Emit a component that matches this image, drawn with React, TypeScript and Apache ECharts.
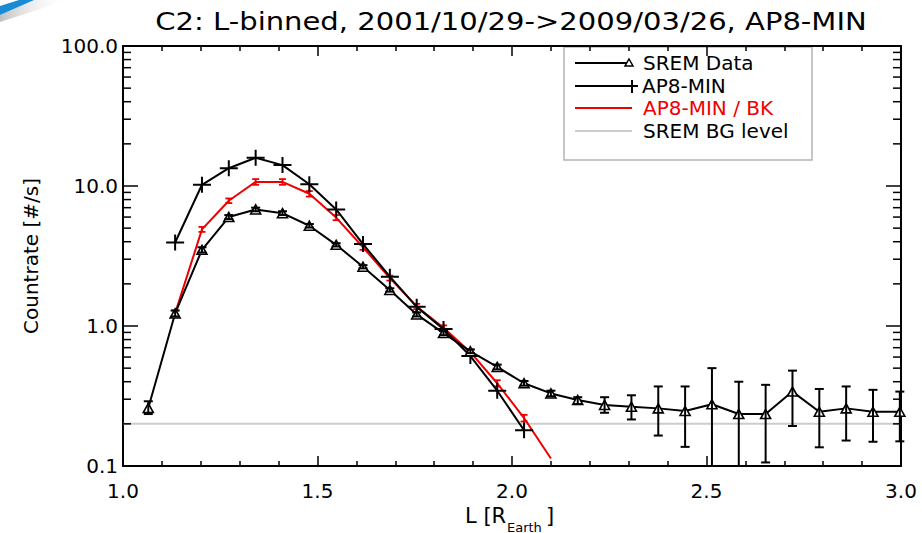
import React, { useEffect, useRef } from 'react';
import * as echarts from 'echarts';

const TITLE = 'C2: L-binned, 2001/10/29->2009/03/26, AP8-MIN';

// L bin centres [R_Earth]
const L_BINS = [1.065, 1.134, 1.203, 1.272, 1.341, 1.41, 1.479, 1.548, 1.617, 1.686, 1.755, 1.824, 1.893, 1.962, 2.031, 2.1, 2.169, 2.238, 2.307, 2.376, 2.445, 2.514, 2.583, 2.652, 2.721, 2.79, 2.859, 2.928, 2.997];

// SREM data (all bins)
const SREM = [0.26, 1.23, 3.5, 6.0, 6.8, 6.4, 5.2, 3.8, 2.65, 1.81, 1.21, 0.89, 0.66, 0.51, 0.39, 0.33, 0.296, 0.273, 0.265, 0.258, 0.247, 0.276, 0.235, 0.235, 0.34, 0.244, 0.258, 0.244, 0.244];
const SREM_LO = [0.235, 1.17, 3.35, 5.8, 6.6, 6.2, 5.05, 3.7, 2.58, 1.76, 1.17, 0.86, 0.64, 0.49, 0.375, 0.315, 0.277, 0.24, 0.215, 0.165, 0.137, 0.05, 0.05, 0.106, 0.193, 0.136, 0.152, 0.149, 0.15];
const SREM_HI = [0.29, 1.29, 3.65, 6.2, 7.0, 6.6, 5.35, 3.9, 2.72, 1.86, 1.25, 0.92, 0.68, 0.53, 0.405, 0.345, 0.31, 0.31, 0.32, 0.37, 0.37, 0.5, 0.4, 0.38, 0.48, 0.355, 0.37, 0.35, 0.34];

// AP8-MIN model (bins 1..14)
const AP8 = [3.95, 10.2, 13.4, 15.9, 14.1, 10.3, 6.8, 3.85, 2.25, 1.37, 0.95, 0.61, 0.345, 0.18];

// AP8-MIN / BK (bins 1..15), error bars for bins 1..14
const AP8_BK = [1.23, 4.9, 7.85, 10.7, 10.7, 8.8, 5.95, 3.65, 2.2, 1.38, 0.97, 0.65, 0.39, 0.22, 0.113];
const AP8_BK_LO = [1.17, 4.7, 7.55, 10.2, 10.2, 8.4, 5.7, 3.5, 2.11, 1.32, 0.93, 0.62, 0.37, 0.208];
const AP8_BK_HI = [1.29, 5.1, 8.15, 11.2, 11.2, 9.2, 6.2, 3.8, 2.29, 1.44, 1.01, 0.68, 0.41, 0.232];

const BG_LEVEL = 0.2;
const X_MIN = 1.0;
const X_MAX = 3.0;
const Y_MIN = 0.1;
const Y_MAX = 100;
const Y_MINOR = [0.2, 0.3, 0.4, 0.5, 0.6, 0.7, 0.8, 0.9, 2, 3, 4, 5, 6, 7, 8, 9, 20, 30, 40, 50, 60, 70, 80, 90];

const FONT = '"DejaVu Sans", "Liberation Sans", sans-serif';
const RED = '#ee0000';
const PLUS = 'path://M8,0h2v7h8v2h-8v7h-2v-7h-8v-2h8z';

function errRender(color: string, lw: number, cap: number) {
  return (params: any, api: any) => {
    const x = api.value(0);
    const lo = api.value(1);
    const hi = api.value(2);
    const cs = params.coordSys;
    const top = api.coord([x, hi]);
    const bot = api.coord([x, lo]);
    const yBottom = cs.y + cs.height;
    const clipped = bot[1] > yBottom;
    const by = clipped ? yBottom : bot[1];
    const st = { stroke: color, lineWidth: lw };
    const children: any[] = [
      { type: 'line', shape: { x1: top[0], y1: top[1], x2: top[0], y2: by }, style: st },
      { type: 'line', shape: { x1: top[0] - cap / 2, y1: top[1], x2: top[0] + cap / 2, y2: top[1] }, style: st },
    ];
    if (!clipped) {
      children.push({ type: 'line', shape: { x1: bot[0] - cap / 2, y1: by, x2: bot[0] + cap / 2, y2: by }, style: st });
    }
    return { type: 'group', children };
  };
}

export default function App() {
  const ref = useRef<HTMLDivElement>(null);
  useEffect(() => {
    document.body.style.margin = '0';
    const chart = echarts.init(ref.current!, null, { renderer: 'svg' });

    const axisLine = { show: true, lineStyle: { color: '#000', width: 2 } };
    const xCommon = {
      type: 'value' as const,
      min: X_MIN,
      max: X_MAX,
      interval: 0.5,
      axisLine,
      splitLine: { show: false },
      axisTick: { show: true, inside: true, length: 10, lineStyle: { color: '#000', width: 1.5 } },
      minorTick: { show: true, splitNumber: 5, length: 5, lineStyle: { color: '#000', width: 1.5 } },
    };
    const yCommon = {
      type: 'log' as const,
      logBase: 10,
      min: Y_MIN,
      max: Y_MAX,
      axisLine,
      splitLine: { show: false },
      axisTick: { show: true, inside: true, length: 15, lineStyle: { color: '#000', width: 1.5 } },
    };

    const tStyle = (text: string, x: number, y: number, fill = '#000', size = 20) => ({
      type: 'text',
      x,
      y,
      style: { text, fill, font: `${size}px ${FONT}`, textAlign: 'left', textVerticalAlign: 'middle' },
    });

    chart.setOption({
      animation: false,
      grid: { left: 123, right: 21, top: 46, bottom: 67 },
      xAxis: [
        {
          ...xCommon,
          position: 'bottom',
          axisLabel: { show: true, margin: 15, fontSize: 20, fontFamily: FONT, color: '#000', formatter: (v: number) => v.toFixed(1) },
        },
        { ...xCommon, position: 'top', axisLabel: { show: false } },
      ],
      yAxis: [
        {
          ...yCommon,
          position: 'left',
          name: 'Countrate [#/s]',
          nameLocation: 'middle',
          nameGap: 82,
          nameTextStyle: { fontSize: 20, fontFamily: FONT, color: '#000' },
          axisLabel: { show: true, margin: 5, fontSize: 20, fontFamily: FONT, color: '#000', formatter: (v: number) => v.toFixed(1) },
        },
        { ...yCommon, position: 'right', axisLabel: { show: false } },
      ],
      series: [
        {
          type: 'line',
          name: 'SREM BG level',
          data: [[X_MIN, BG_LEVEL], [X_MAX, BG_LEVEL]],
          symbol: 'none',
          lineStyle: { color: '#cccccc', width: 2 },
          z: 1,
          silent: true,
        },
        {
          type: 'line',
          name: 'AP8-MIN / BK',
          data: AP8_BK.map((v, i) => [L_BINS[i + 1], v]),
          symbol: 'none',
          lineStyle: { color: RED, width: 2 },
          z: 2,
          silent: true,
        },
        {
          type: 'custom',
          name: 'AP8-MIN / BK error',
          renderItem: errRender(RED, 1.8, 7),
          data: AP8_BK_LO.map((lo, i) => [L_BINS[i + 1], lo, AP8_BK_HI[i]]),
          encode: { x: 0, y: [1, 2] },
          z: 3,
          silent: true,
        },
        {
          type: 'line',
          name: 'AP8-MIN',
          data: AP8.map((v, i) => [L_BINS[i + 1], v]),
          symbol: PLUS,
          symbolSize: [18, 16],
          itemStyle: { color: '#000' },
          lineStyle: { color: '#000', width: 2 },
          z: 4,
          silent: true,
        },
        {
          type: 'line',
          name: 'SREM Data',
          data: SREM.map((v, i) => [L_BINS[i], v]),
          symbol: 'triangle',
          symbolSize: [10, 9],
          itemStyle: { color: '#fff', borderColor: '#000', borderWidth: 1.6 },
          lineStyle: { color: '#000', width: 2 },
          z: 5,
          silent: true,
        },
        {
          type: 'custom',
          name: 'SREM error',
          renderItem: errRender('#000', 2, 9),
          data: SREM_LO.map((lo, i) => [L_BINS[i], lo, SREM_HI[i]]),
          encode: { x: 0, y: [1, 2] },
          z: 6,
          silent: true,
        },
        {
          type: 'custom',
          name: 'minor y ticks',
          renderItem: (params: any, api: any) => {
            const cs = params.coordSys;
            const y = api.coord([X_MIN, api.value(1)])[1];
            const st = { stroke: '#000', lineWidth: 1.5 };
            return {
              type: 'group',
              children: [
                { type: 'line', shape: { x1: cs.x, y1: y, x2: cs.x + 8, y2: y }, style: st },
                { type: 'line', shape: { x1: cs.x + cs.width - 8, y1: y, x2: cs.x + cs.width, y2: y }, style: st },
              ],
            };
          },
          data: Y_MINOR.map((v) => [X_MIN, v]),
          encode: { x: 0, y: 1 },
          z: 7,
          silent: true,
        },
      ],
      graphic: [
        { type: 'polygon', shape: { points: [[0, 15], [0, 22], [68, 0], [34, 0]] }, style: { fill: new echarts.graphic.LinearGradient(0, 0, 1, 0, [{ offset: 0, color: 'rgba(140,140,140,0.55)' }, { offset: 1, color: 'rgba(255,255,255,0)' }]) }, z: 1 },
        { type: 'polygon', shape: { points: [[0, 6], [0, 15], [34, 0], [19, 0]] }, style: { fill: '#1a8ad4' }, z: 2 },
        {
          type: 'text',
          x: 511,
          y: 21,
          scaleX: 1.21,
          style: { text: TITLE, fill: '#000', font: `24px ${FONT}`, textAlign: 'center', textVerticalAlign: 'middle' },
        },
        { type: 'rect', shape: { x: 564, y: 47, width: 248, height: 113 }, style: { fill: '#fff', stroke: '#b4b4b4', lineWidth: 1.5 }, z: -1 },
        { type: 'line', shape: { x1: 575, y1: 63, x2: 628, y2: 63 }, style: { stroke: '#000', lineWidth: 2 } },
        { type: 'polygon', shape: { points: [[629, 59], [633, 66], [625, 66]] }, style: { fill: '#fff', stroke: '#000', lineWidth: 1.5 } },
        tStyle('SREM Data', 643, 63),
        { type: 'line', shape: { x1: 575, y1: 86, x2: 638, y2: 86 }, style: { stroke: '#000', lineWidth: 2 } },
        { type: 'line', shape: { x1: 632, y1: 80, x2: 632, y2: 93 }, style: { stroke: '#000', lineWidth: 2 } },
        tStyle('AP8-MIN', 642, 86),
        { type: 'line', shape: { x1: 575, y1: 108, x2: 632, y2: 108 }, style: { stroke: RED, lineWidth: 2 } },
        tStyle('AP8-MIN / BK', 643, 108, RED),
        { type: 'line', shape: { x1: 575, y1: 131, x2: 632, y2: 131 }, style: { stroke: '#cccccc', lineWidth: 2 } },
        tStyle('SREM BG level', 643, 131),
        tStyle('L [R', 465, 516, '#000', 21),
        tStyle('Earth', 507, 527, '#000', 13),
        tStyle(']', 546, 516, '#000', 21),
      ],
    });
    return () => chart.dispose();
  }, []);
  return <div ref={ref} style={{ width: 922, height: 533 }} />;
}
